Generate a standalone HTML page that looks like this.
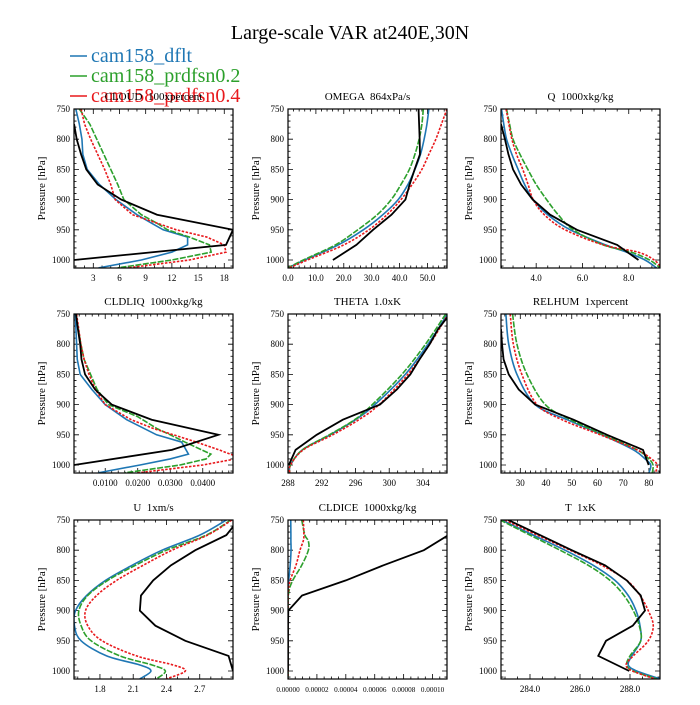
<!DOCTYPE html>
<html><head><meta charset="utf-8"><style>
html,body{margin:0;padding:0;background:#fff;}
svg text{font-family:"Liberation Serif",serif;white-space:pre;}
</style></head><body>
<svg id="chart" width="700" height="700" viewBox="0 0 700 700" xmlns="http://www.w3.org/2000/svg">
<rect width="700" height="700" fill="#fff"/>
<text x="350" y="39" font-size="20" text-anchor="middle">Large-scale VAR at240E,30N</text>
<g>
<g><line x1="70" y1="56" x2="87" y2="56" stroke="#1f77b4" stroke-width="1.5"/><text x="91" y="62" font-size="20" fill="#1f77b4">cam158_dflt</text></g>
<g><line x1="70" y1="76" x2="87" y2="76" stroke="#2ca02c" stroke-width="1.5"/><text x="91" y="82" font-size="20" fill="#2ca02c">cam158_prdfsn0.2</text></g>
<g><line x1="70" y1="96" x2="87" y2="96" stroke="#e8191c" stroke-width="1.5"/><text x="91" y="102" font-size="20" fill="#e8191c">cam158_prdfsn0.4</text></g>
</g>
</svg>
<script>
const obsP = [750,775,800,825,850,875,900,925,950,975,1000];
const stdP = [750,775,800,825,850,875,900,925,950,975,1000,1013];

const cloudP = [750,775,800,825,850,875,900,925,940,950,962,975,987,1000,1013];
const cloudObs = [null,0.8,1.1,1.6,2.2,3.5,6.2,10.3,19.0,18.2,0.8];
const cloudDflt = [1.0,1.4,1.7,1.8,2.3,3.7,5.6,8.0,9.8,11.0,13.8,13.8,12.0,8.5,3.6];
const cloudP02 = [1.4,2.6,3.4,4.2,5.0,5.8,6.5,8.5,10.4,11.5,14.0,16.3,16.5,12.0,5.8];
const cloudP04 = [1.6,2.0,2.7,3.5,4.3,5.0,5.5,7.5,10.5,12.5,16.0,18.0,18.2,14.0,7.0];
const cloudTicks = [3,6,9,12,15,18];

const omegaObs = [46.8,47.0,47.2,47.3,45.4,43.6,42.1,37.1,30.5,24.5,16.1];
const omegaDflt = [50.5,49.8,48.8,47.5,45.5,43,39.5,34,27,18,6,0];
const omegaP02 = [48.5,48,47,45.5,43.5,40.5,37,32,25,17,5.5,0];
const omegaP04 = [57,55,53,50.5,48,44.5,40.5,35.5,29,20,7,0.5];
const omegaTicks = [0,10,20,30,40,50];

const qP = [750,775,800,825,850,875,900,925,950,975,987,1000,1013];
const qObs = [null,2.48,2.65,2.8,3.0,3.35,3.85,4.6,5.76,7.5,8.42];
const qDflt = [2.5,2.6,2.72,2.95,3.22,3.5,3.87,4.5,5.47,7.0,7.9,8.7,9.2];
const qP02 = [2.72,2.85,3.0,3.3,3.64,4.0,4.45,4.95,5.6,6.9,8.1,8.9,9.35];
const qP04 = [2.7,2.82,2.95,3.15,3.42,3.65,3.87,4.35,5.25,6.9,8.4,9.1,9.4];
const qTicks = [4,6,8];

const liqObs = [0.0010,0.0016,0.0023,0.0027,0.0038,0.0069,0.0120,0.0243,0.0448,0.0305,0.0004];
const liqDfltP = [750,775,800,825,850,875,900,925,950,962,982,990,1000,1013];
const liqDflt = [0.0008,0.0010,0.0012,0.0014,0.0023,0.0059,0.0100,0.0166,0.0258,0.0335,0.0356,0.0300,0.0207,0.0078];
const liqP02P = [750,800,825,850,875,900,920,940,950,962,982,990,1000,1013];
const liqP02 = [0.0010,0.0025,0.0035,0.0055,0.0075,0.0110,0.0200,0.0260,0.0300,0.0345,0.0425,0.0410,0.0330,0.0160];
const liqP04P = [750,800,825,850,875,900,925,940,950,962,975,985,990,1000,1013];
const liqP04 = [0.0012,0.0025,0.0035,0.0050,0.0070,0.0100,0.0180,0.0250,0.0310,0.0380,0.0450,0.0500,0.0500,0.0400,0.0200];
const liqTicks = [0.01,0.02,0.03,0.04];

const thetaP = [750,800,850,900,925,950,975,1000,1013];
const thetaObs = [307.2,305.8,304.8,303.6,302.5,300.9,298.9,294.5,291.4,288.9,288.1];
const thetaDflt = [306.9,304.6,301.9,298.3,296.0,293.0,289.7,288.3,288.2];
const thetaP02 = [306.7,304.3,301.5,298.0,295.9,292.9,289.7,288.3,288.2];
const thetaP04 = [307.0,304.8,302.2,298.8,296.4,293.3,289.8,288.3,288.2];
const thetaTicks = [288,292,296,300,304];

const rhP = [750,800,850,900,925,950,975,990,1000,1013];
const rhObs = [null,22.5,22.9,23.5,25.5,29.4,35.8,50.7,63.7,77.7,79.9];
const rhDflt = [24.4,25.5,28.7,35.8,48.2,61.8,74,78.5,80.7,80];
const rhP02 = [27,28.7,32.6,39.7,49.5,62.4,75.4,80,81.6,81.3];
const rhP04 = [26.1,27.3,30.6,36.5,46.2,61.1,75.4,81,83.2,82.5];
const rhTicks = [30,40,50,60,70,80];

const uP = [750,775,800,825,850,875,900,925,950,975,990,1000,1013];
const uObs = [3.05,2.94,2.66,2.44,2.28,2.17,2.16,2.30,2.57,2.96,3.0];
const uDflt = [2.94,2.70,2.36,2.09,1.85,1.68,1.58,1.57,1.63,1.86,2.16,2.26,2.16];
const uP02 = [2.98,2.76,2.40,2.12,1.87,1.69,1.61,1.63,1.72,1.98,2.27,2.39,2.31];
const uP04 = [2.99,2.77,2.45,2.19,1.95,1.77,1.67,1.69,1.82,2.13,2.46,2.57,2.40];
const uTicks = [1.8,2.1,2.4,2.7];

const iceP = [750,775,785,800,825,850,870,900,1000,1013];
const iceObs = [null,0.000111,0.000094,0.000066,0.000040,0.0000097,0.0000002,0,0,0,0];
const iceDflt = [0.0000019,0.000002,0.000002,0.0000021,0.0000015,0.0000005,0,0,0,0];
const iceP02 = [0.0000095,0.0000117,0.0000141,0.0000141,0.0000095,0.0000033,0.0000005,0,0,0];
const iceP04 = [0.0000106,0.000011,0.0000105,0.0000083,0.0000055,0.0000015,0.0000002,0,0,0];
const iceTicks = [0,0.00002,0.00004,0.00006,0.00008,0.0001];

const tP = [750,775,800,825,850,875,900,925,950,975,990,1000,1013];
const tObs = [283.13,284.4,285.67,287.0,287.87,288.43,288.6,288.11,287.04,286.73,287.97];
const tDflt = [282.87,284.13,285.4,286.53,287.4,287.93,288.24,288.4,288.43,288.07,287.93,288.27,289.2];
const tP02 = [282.8,284.0,285.2,286.33,287.2,287.76,288.13,288.37,288.43,288.0,287.87,288.13,289.07];
const tP04 = [283.0,284.29,285.6,286.87,287.87,288.4,288.73,288.93,288.73,288.13,287.84,288.1,289.0];
const tTicks = [284,286,288];

const yTicks = [750,800,850,900,950,1000];

const NS = 'http://www.w3.org/2000/svg';
const svg = document.getElementById('chart');
function mk(tag, attrs, parent){const e=document.createElementNS(NS,tag);for(const k in attrs)e.setAttribute(k,attrs[k]);parent.appendChild(e);return e;}
function pathFrom(pts, smooth){
  if(!pts.length) return '';
  let d='M'+pts[0][0].toFixed(2)+','+pts[0][1].toFixed(2);
  for(let i=1;i<pts.length;i++){
    if(!smooth){d+='L'+pts[i][0].toFixed(2)+','+pts[i][1].toFixed(2);continue;}
    const p0=pts[Math.max(0,i-2)],p1=pts[i-1],p2=pts[i],p3=pts[Math.min(pts.length-1,i+1)];
    const c1=[p1[0]+(p2[0]-p0[0])/6,p1[1]+(p2[1]-p0[1])/6];
    const c2=[p2[0]-(p3[0]-p1[0])/6,p2[1]-(p3[1]-p1[1])/6];
    d+='C'+c1[0].toFixed(2)+','+c1[1].toFixed(2)+' '+c2[0].toFixed(2)+','+c2[1].toFixed(2)+' '+p2[0].toFixed(2)+','+p2[1].toFixed(2);
  }
  return d;
}

const panels = [
 {key:'cloud',title:'CLOUD  100xpercent',col:0,row:0,xmin:0.79,xmax:19.0,ticks:cloudTicks,minor:1,fmt:v=>String(v),mp:[cloudP,cloudP,cloudP],obs:cloudObs,m:[cloudDflt,cloudP02,cloudP04],smooth:false,fs:9},
 {key:'omega',title:'OMEGA  864xPa/s',col:1,row:0,xmin:0,xmax:57,ticks:omegaTicks,minor:2,fmt:v=>v.toFixed(1),mp:[stdP,stdP,stdP],obs:omegaObs,m:[omegaDflt,omegaP02,omegaP04],smooth:true,fs:9},
 {key:'q',title:'Q  1000xkg/kg',col:2,row:0,xmin:2.48,xmax:9.35,ticks:qTicks,minor:0.5,fmt:v=>v.toFixed(1),mp:[qP,qP,qP],obs:qObs,m:[qDflt,qP02,qP04],smooth:true,fs:9},
 {key:'cldliq',title:'CLDLIQ  1000xkg/kg',col:0,row:1,xmin:0.0004,xmax:0.0493,ticks:liqTicks,minor:0.002,fmt:v=>v.toFixed(4),mp:[liqDfltP,liqP02P,liqP04P],obs:liqObs,m:[liqDflt,liqP02,liqP04],smooth:false,fs:9},
 {key:'theta',title:'THETA  1.0xK',col:1,row:1,xmin:288,xmax:306.85,ticks:thetaTicks,minor:1,fmt:v=>String(v),mp:[thetaP,thetaP,thetaP],obs:thetaObs,m:[thetaDflt,thetaP02,thetaP04],smooth:true,fs:9},
 {key:'relhum',title:'RELHUM  1xpercent',col:2,row:1,xmin:22.5,xmax:84.3,ticks:rhTicks,minor:2,fmt:v=>String(v),mp:[rhP,rhP,rhP],obs:rhObs,m:[rhDflt,rhP02,rhP04],smooth:true,fs:9},
 {key:'u',title:'U  1xm/s',col:0,row:2,xmin:1.566,xmax:3.0,ticks:uTicks,minor:0.1,fmt:v=>v.toFixed(1),mp:[uP,uP,uP],obs:uObs,m:[uDflt,uP02,uP04],smooth:true,fs:9},
 {key:'cldice',title:'CLDICE  1000xkg/kg',col:1,row:2,xmin:0,xmax:0.00011,ticks:iceTicks,minor:0.000005,fmt:v=>v.toFixed(5),mp:[iceP,iceP,iceP],obs:iceObs,m:[iceDflt,iceP02,iceP04],smooth:true,fs:7.2},
 {key:'t',title:'T  1xK',col:2,row:2,xmin:282.84,xmax:289.2,ticks:tTicks,minor:0.5,fmt:v=>v.toFixed(1),mp:[tP,tP,tP],obs:tObs,m:[tDflt,tP02,tP04],smooth:true,fs:9}
];
const colLeft=[74,288,501], rowTop=[109,314,520], W=159, H=159;
const colors=['#1f77b4','#2ca02c','#e8191c'];
const dashes=['none','6,1.5','2.5,1.5'];
const seriesNames=['dflt','prdfsn02','prdfsn04'];

panels.forEach(pn=>{
  const L=colLeft[pn.col], T=rowTop[pn.row], R=L+W, B=T+H;
  const xs=v=>L+(v-pn.xmin)/(pn.xmax-pn.xmin)*W;
  const ys=p=>T+(p-750)/250*151;
  const g=mk('g',{},svg);
  
  
  const cid='clip-'+pn.key;
  const cp=mk('clipPath',{id:cid},g); mk('rect',{x:L,y:T,width:W,height:H},cp);
  const tt=mk('text',{x:L+W/2,y:T-9,'font-size':11,'text-anchor':'middle'},g); tt.textContent=pn.title;
  
  
  const yl=mk('text',{x:0,y:0,'font-size':11,'text-anchor':'middle',transform:`translate(${L-29},${T+H/2}) rotate(-90)`},g); yl.textContent='Pressure [hPa]';
  
  
  let tk='';
  for(let p=750;p<=1013;p+=10){const y=ys(p);const len=(p%50===0)?5:2.5;tk+=`M${L},${y}h${len}M${R},${y}h${-len}`;}
  const step=pn.minor; const start=Math.ceil(pn.xmin/step-1e-9);
  for(let i=start;i*step<=pn.xmax+1e-12;i++){const v=i*step;const x=xs(v);tk+=`M${x},${B}v-2.5M${x},${T}v2.5`;}
  pn.ticks.forEach(v=>{const x=xs(v);tk+=`M${x},${B}v-5M${x},${T}v5`;});
  const tp=mk('path',{d:tk,stroke:'#000','stroke-width':0.8,fill:'none'},g);
  
  
  yTicks.forEach(p=>{const t=mk('text',{x:L-4,y:ys(p)+3,'font-size':9,'text-anchor':'end'},g);t.textContent=String(p);
    
    });
  pn.ticks.forEach(v=>{const t=mk('text',{x:xs(v),y:B+13,'font-size':pn.fs,'text-anchor':'middle'},g);t.textContent=pn.fmt(v);
    
    });
  const lg=mk('g',{'clip-path':`url(#${cid})`},g);
  pn.m.forEach((arr,i)=>{
    const P=pn.mp[i];const pts=[];
    arr.forEach((v,j)=>{if(v===null)return;pts.push([xs(v),ys(P[j])]);});
    const a={d:pathFrom(pts,pn.smooth),stroke:colors[i],'stroke-width':1.6,fill:'none'};if(dashes[i]!=='none')a['stroke-dasharray']=dashes[i];
    const pth=mk('path',a,lg);
    
    
  });
  const opts=[];
  pn.obs.forEach((v,j)=>{if(v===null)return;opts.push([xs(v),ys(obsP[j])]);});
  const op=mk('path',{d:pathFrom(opts,false),stroke:'#000','stroke-width':1.8,fill:'none'},lg);
  
  
  const fr=mk('rect',{x:L,y:T,width:W,height:H,fill:'none',stroke:'#000','stroke-width':1.2},g);
  
  
});
</script>
</body></html>
